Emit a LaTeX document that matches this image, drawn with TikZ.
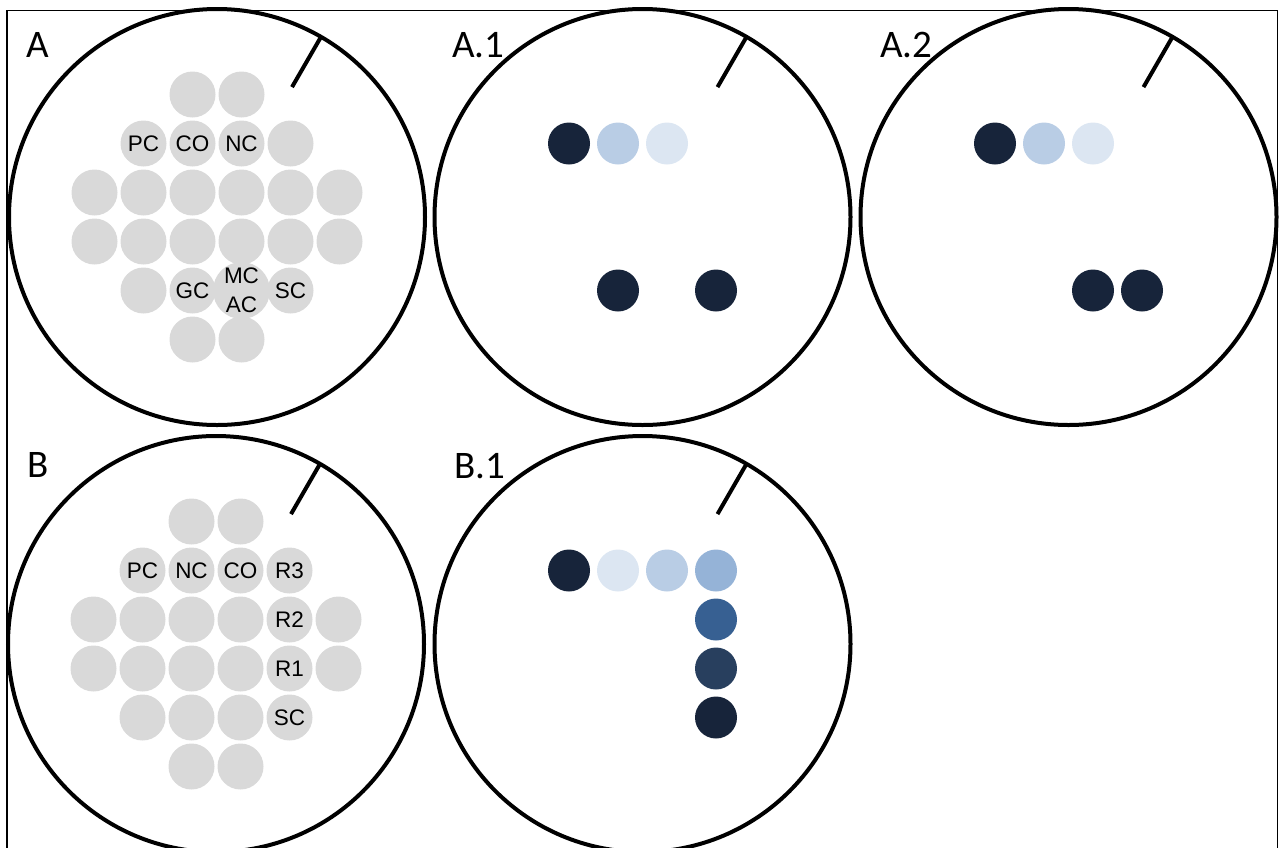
\documentclass[tikz,border=0pt]{standalone}
\usepackage{fontspec}
\setmainfont{Liberation Sans}
\newfontfamily\panelfont{Carlito}
\usetikzlibrary{calc}
\definecolor{wellgray}{HTML}{D9D9D9}
\definecolor{navy}{HTML}{17243A}
\definecolor{blueA}{HTML}{DCE6F2}
\definecolor{blueB}{HTML}{B9CDE5}
\definecolor{blueC}{HTML}{95B3D7}
\definecolor{blueD}{HTML}{376092}
\definecolor{blueE}{HTML}{283F5E}
\tikzset{
  dishline/.style={line width=4pt},
  wellcell/.style={shape=circle,fill=wellgray,inner sep=0pt,minimum size=46pt,align=center},
  spotcell/.style={shape=circle,inner sep=0pt,minimum size=42pt},
  panellabel/.style={anchor=base west,inner sep=0pt,font=\panelfont\fontsize{39}{39}\selectfont}
}
\newcommand{\dish}[1]{ \coordinate (#1) at (3.5,3.5); \draw[dishline] (#1) circle (208pt); \draw[dishline] ($(#1)+(60:150pt)$) -- ($(#1)+(60:209pt)$);}
\newcommand{\well}[4]{ \node[wellcell] (#1) at (#2,#3){#4};}
\newcommand{\spot}[4]{ \node[spotcell,fill=#4] (#1) at (#2,#3){};}

\begin{document}
\begin{tikzpicture}[x=1pt,y=-1pt,font=\fontsize{22.5}{29}\selectfont]
    \useasboundingbox (0,0) rectangle (1279,847);
    \clip (0,0) rectangle (1279,847);
    \draw[line width=1.3pt] (7,10.5) rectangle (1277.5,900);

    % dish A
    \begin{scope}[shift={(45.5,45.5)},x=49pt,y=-49pt]
        \dish{a}
        % row1
        \well{a-r1c3}{3}{1}{} \well{a-r1c4}{4}{1}{}
        % row2
        \well{a-pc}{2}{2}{PC} \well{a-co}{3}{2}{CO} \well{a-nc}{4}{2}{NC} \well{a-r2c5}{5}{2}{}
        % row3
        \well{a-r3c1}{1}{3}{} \well{a-r3c2}{2}{3}{} \well{a-r3c3}{3}{3}{}
        \well{a-r3c4}{4}{3}{} \well{a-r3c5}{5}{3}{} \well{a-r3c6}{6}{3}{}
        % row4
        \well{a-r4c1}{1}{4}{} \well{a-r4c2}{2}{4}{} \well{a-r4c3}{3}{4}{}
        \well{a-r4c4}{4}{4}{} \well{a-r4c5}{5}{4}{} \well{a-r4c6}{6}{4}{}
        % row5
        \well{a-r5c2}{2}{5}{} \well{a-gc}{3}{5}{GC} \well{a-mc}{4}{5}{MC\\AC} \well{a-sc}{5}{5}{SC}
        % row6
        \well{a-r6c3}{3}{6}{} \well{a-r6c4}{4}{6}{}
    \end{scope}

    % dish A.1
    \begin{scope}[shift={(471,45.5)},x=49pt,y=-49pt]
        \dish{a1}
        % row2
        \spot{a1-r2c2}{2}{2}{navy} \spot{a1-r2c3}{3}{2}{blueB} \spot{a1-r2c4}{4}{2}{blueA}
        % row5
        \spot{a1-r5c3}{3}{5}{navy} \spot{a1-r5c5}{5}{5}{navy}
    \end{scope}

    % dish A.2
    \begin{scope}[shift={(897,45.5)},x=49pt,y=-49pt]
        \dish{a2}
        % row2
        \spot{a2-r2c2}{2}{2}{navy} \spot{a2-r2c3}{3}{2}{blueB} \spot{a2-r2c4}{4}{2}{blueA}
        % row5
        \spot{a2-r5c4}{4}{5}{navy} \spot{a2-r5c5}{5}{5}{navy}
    \end{scope}

    % dish B
    \begin{scope}[shift={(44.5,472.5)},x=49pt,y=-49pt]
        \dish{b}
        % row1
        \well{b-r1c3}{3}{1}{} \well{b-r1c4}{4}{1}{}
        % row2
        \well{b-pc}{2}{2}{PC} \well{b-nc}{3}{2}{NC} \well{b-co}{4}{2}{CO} \well{b-r3}{5}{2}{R3}
        % row3
        \well{b-r3c1}{1}{3}{} \well{b-r3c2}{2}{3}{} \well{b-r3c3}{3}{3}{}
        \well{b-r3c4}{4}{3}{} \well{b-r2}{5}{3}{R2} \well{b-r3c6}{6}{3}{}
        % row4
        \well{b-r4c1}{1}{4}{} \well{b-r4c2}{2}{4}{} \well{b-r4c3}{3}{4}{}
        \well{b-r4c4}{4}{4}{} \well{b-r1}{5}{4}{R1} \well{b-r4c6}{6}{4}{}
        % row5
        \well{b-r5c2}{2}{5}{} \well{b-r5c3}{3}{5}{} \well{b-r5c4}{4}{5}{} \well{b-sc}{5}{5}{SC}
        % row6
        \well{b-r6c3}{3}{6}{} \well{b-r6c4}{4}{6}{}
    \end{scope}

    % dish B.1
    \begin{scope}[shift={(471,472.5)},x=49pt,y=-49pt]
        \dish{b1}
        % row2
        \spot{b1-r2c2}{2}{2}{navy} \spot{b1-r2c3}{3}{2}{blueA} \spot{b1-r2c4}{4}{2}{blueB} \spot{b1-r2c5}{5}{2}{blueC}
        % column5
        \spot{b1-r3c5}{5}{3}{blueD} \spot{b1-r4c5}{5}{4}{blueE} \spot{b1-r5c5}{5}{5}{navy}
    \end{scope}

    % text
    \node[panellabel] (lab-a) at (26,57) {A};
    \node[panellabel] (lab-a1) at (452,57) {A.1};
    \node[panellabel] (lab-a2) at (880,57) {A.2};
    \node[panellabel] (lab-b) at (27,477) {B};
    \node[panellabel] (lab-b1) at (454,478) {B.1};
\end{tikzpicture}
\end{document}
